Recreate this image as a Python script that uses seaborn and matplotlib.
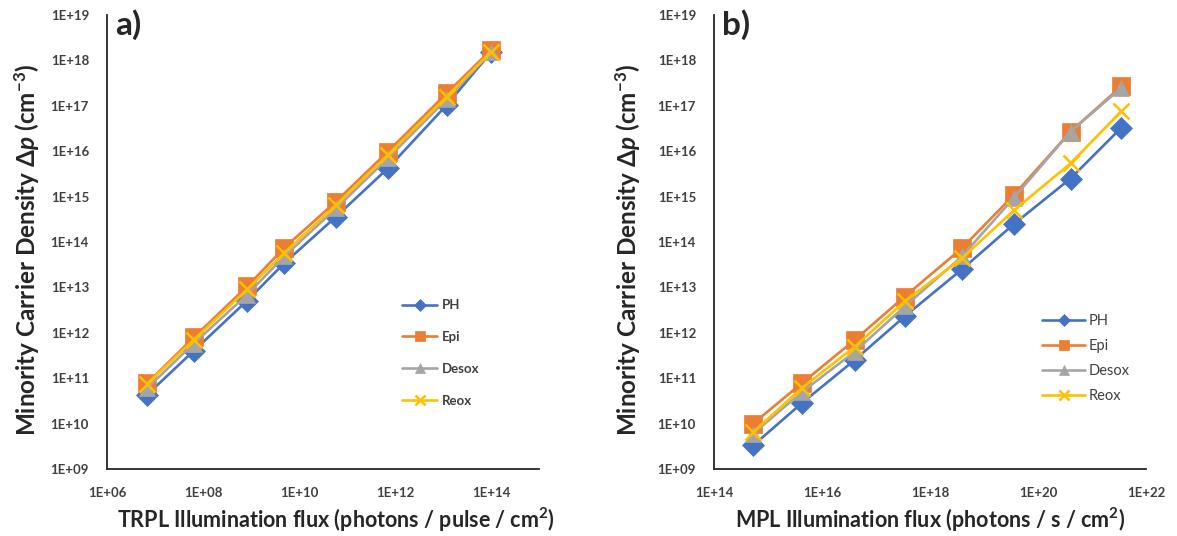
import matplotlib
matplotlib.use('Agg')
import matplotlib.pyplot as plt
import seaborn as sns
import numpy as np
from matplotlib.ticker import FuncFormatter, NullLocator

# panel a) TRPL
trpl_flux = [6.8e6, 6.4e7, 8.3e8, 4.9e9, 5.9e10, 7.1e11, 1.2e13, 1.0e14]
trpl_ph = [4.3e10, 4.0e11, 5.1e12, 3.4e13, 3.6e14, 4.2e15, 1.05e17, 1.5e18]
trpl_epi = [7.7e10, 7.9e11, 1.05e13, 7.4e13, 7.8e14, 9.8e15, 1.9e17, 1.7e18]
trpl_desox = [6.0e10, 5.8e11, 6.9e12, 4.8e13, 5.5e14, 7.0e15, 1.4e17, 1.5e18]
trpl_reox = [7.5e10, 7.0e11, 9.0e12, 5.7e13, 6.5e14, 8.3e15, 1.6e17, 1.55e18]

# panel b) MPL
mpl_flux = [5.3e14, 4.2e15, 4.0e16, 3.4e17, 3.9e18, 3.6e19, 4.0e20, 3.5e21]
mpl_ph = [3.3e9, 2.8e10, 2.5e11, 2.3e12, 2.5e13, 2.5e14, 2.5e15, 3.3e16]
mpl_epi = [1.0e10, 7.7e10, 6.9e11, 6.3e12, 7.3e13, 1.1e15, 2.7e16, 2.7e17]
mpl_desox = [6.0e9, 4.9e10, 3.8e11, 3.8e12, 4.8e13, 9.5e14, 2.7e16, 2.5e17]
mpl_reox = [6.5e9, 6.0e10, 4.9e11, 4.9e12, 4.4e13, 5.0e14, 5.4e15, 7.6e16]

y_ticks = [1e9, 1e10, 1e11, 1e12, 1e13, 1e14, 1e15, 1e16, 1e17, 1e18, 1e19]
trpl_ticks = [1e6, 1e8, 1e10, 1e12, 1e14]
mpl_ticks = [1e14, 1e16, 1e18, 1e20, 1e22]

names = ['PH', 'Epi', 'Desox', 'Reox']
colors = ['#4472C4', '#ED7D31', '#A5A5A5', '#FFC000']
markers = ['D', 's', '^', 'x']
msizes = [11, 13, 12, 11]

sns.set_style('white')
plt.rcParams['font.family'] = ['Lato', 'DejaVu Sans']
plt.rcParams['mathtext.fontset'] = 'custom'
plt.rcParams['mathtext.rm'] = 'Lato:bold'
plt.rcParams['mathtext.it'] = 'Lato:bold:italic'
plt.rcParams['mathtext.bf'] = 'Lato:bold'
plt.rcParams['mathtext.fallback'] = 'stixsans'

fig = plt.figure(figsize=(11.77, 5.36), dpi=100)
ax_a = fig.add_axes([107 / 1177, 0.125, 432 / 1177, 0.847])
ax_b = fig.add_axes([714 / 1177, 0.125, 432 / 1177, 0.847])

def draw(ax, x, series, xticks, xlim):
  for name, y, c, m, ms in zip(names, series, colors, markers, msizes):
    sns.lineplot(x=x, y=y, ax=ax, color=c, marker=m, markersize=ms,
                 markeredgecolor=c, markeredgewidth=1.8 if m == 'x' else 0.5,
                 linewidth=1.9, label=name, sort=False)
  ax.set_xscale('log')
  ax.set_yscale('log')
  ax.set_yticks(y_ticks)
  ax.set_xticks(xticks)
  ax.set_ylim(1e9, 1e19)
  ax.set_xlim(*xlim)
  ax.yaxis.set_minor_locator(NullLocator())
  ax.xaxis.set_minor_locator(NullLocator())
  fmt = FuncFormatter(lambda v, p: f'{v:.0E}')
  ax.xaxis.set_major_formatter(fmt)
  ax.yaxis.set_major_formatter(fmt)
  for s in ['top', 'right']:
    ax.spines[s].set_visible(False)
  for s in ['left', 'bottom']:
    ax.spines[s].set_color('#262626')
    ax.spines[s].set_linewidth(1.3)
  ax.tick_params(axis='both', which='major', direction='out', length=4,
                 width=1.2, color='#404040', labelsize=9.5, pad=9)
  for lab in ax.get_xticklabels() + ax.get_yticklabels():
    lab.set_fontweight('bold')
    lab.set_color('#404040')
  ax.set_ylabel(r'Minority Carrier Density $\Delta p$ (cm$^{-3}$)',
                fontsize=17.5, fontweight='bold', color='#262626')

draw(ax_a, trpl_flux, [trpl_ph, trpl_epi, trpl_desox, trpl_reox],
     trpl_ticks, (1e6, 1e15))
ax_a.set_xlabel(r'TRPL Illumination flux (photons / pulse / cm$^{2}$)',
                fontsize=15.5, fontweight='bold', color='#262626')
ax_a.xaxis.set_label_coords(0.53, -0.08)
ax_a.yaxis.set_label_coords(-0.15, 0.482)
leg = ax_a.legend(loc='upper left', bbox_to_anchor=(0.655, 0.40), frameon=False,
                  labelspacing=1.5, handlelength=2.7, handletextpad=0.3,
                  markerscale=0.6, prop={'weight': 'bold', 'size': 9.5})
for t in leg.get_texts():
  t.set_color('#404040')

draw(ax_b, mpl_flux, [mpl_ph, mpl_epi, mpl_desox, mpl_reox],
     mpl_ticks, (1e14, 1e22))
ax_b.set_xlabel(r'MPL Illumination flux (photons / s / cm$^{2}$)',
                fontsize=15.5, fontweight='bold', color='#262626')
ax_b.xaxis.set_label_coords(0.50, -0.08)
ax_b.yaxis.set_label_coords(-0.165, 0.482)
leg = ax_b.legend(loc='upper left', bbox_to_anchor=(0.73, 0.37), frameon=False,
                  labelspacing=0.75, handlelength=2.9, handletextpad=0.25,
                  markerscale=0.6, prop={'size': 10.5})
for t in leg.get_texts():
  t.set_color('#404040')

fig.text(115 / 1177, 1 - 9 / 536, 'a)', fontsize=24, fontweight='bold', va='top')
fig.text(722 / 1177, 1 - 9 / 536, 'b)', fontsize=24, fontweight='bold', va='top')

plt.savefig('out.png', dpi=100)
